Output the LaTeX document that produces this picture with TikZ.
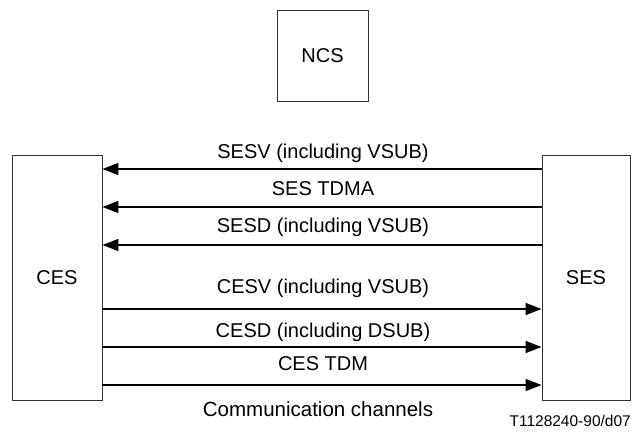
\documentclass[tikz,border=0pt]{standalone}
\usepackage{fontspec}
\setmainfont{Liberation Sans}
\usetikzlibrary{arrows.meta}
\begin{document}
\begin{tikzpicture}[x=1pt,y=-1pt,
  box/.style={draw=black!80,line width=0.9pt,inner sep=0pt,font=\fontsize{20}{24}\selectfont},
  chan/.style={line width=1.4pt,-{Triangle[length=16pt,width=12pt]}},
  lbl/.style={anchor=base,inner sep=0pt,font=\fontsize{20}{24}\selectfont}]
\useasboundingbox (0,0) rectangle (633,445);
\node[box,minimum width=91pt,minimum height=91pt] (ncs) at (322.5,55.5) {NCS};
\node[box,minimum width=90pt,minimum height=245pt] (ces) at (57,277.5) {CES};
\node[box,minimum width=88pt,minimum height=245pt] (ses) at (586,277.5) {SES};
\coordinate (r1) at (0,169);
\coordinate (r2) at (0,207);
\coordinate (r3) at (0,245);
\coordinate (r4) at (0,309);
\coordinate (r5) at (0,347);
\coordinate (r6) at (0,385);
\draw[chan] (r1 -| ses.west) -- (r1 -| ces.east);
\draw[chan] (r2 -| ses.west) -- (r2 -| ces.east);
\draw[chan] (r3 -| ses.west) -- (r3 -| ces.east);
\draw[chan] (r4 -| ces.east) -- (r4 -| ses.west);
\draw[chan] (r5 -| ces.east) -- (r5 -| ses.west);
\draw[chan] (r6 -| ces.east) -- (r6 -| ses.west);
\node[lbl] (l1) at (323,158) {SESV (including VSUB)};
\node[lbl] (l2) at (323,195) {SES TDMA};
\node[lbl] (l3) at (323,232) {SESD (including VSUB)};
\node[lbl] (l4) at (323,293) {CESV (including VSUB)};
\node[lbl] (l5) at (323,337) {CESD (including DSUB)};
\node[lbl] (l6) at (323,370) {CES TDM};
\node[lbl,font=\fontsize{20.5}{24}\selectfont] (cc) at (318,416) {Communication channels};
\node[anchor=base east,inner sep=0pt,font=\fontsize{15.5}{18}\selectfont] (ref) at (631,426) {T1128240-90/d07};
\end{tikzpicture}
\end{document}
